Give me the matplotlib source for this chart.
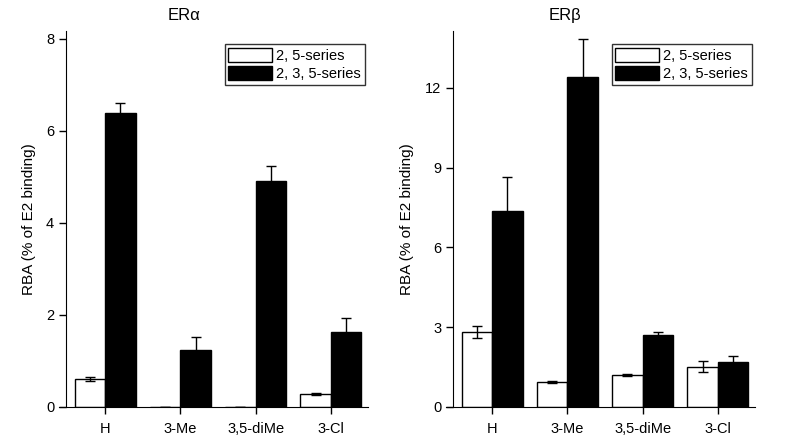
import numpy as np
import matplotlib; matplotlib.use("Agg"); import matplotlib.pyplot as plt

plt.rcParams["font.family"] = ["Liberation Sans", "DejaVu Sans"]

groups = ["H", "3-Me", "3,5-diMe", "3-Cl"]
series = ["2, 5-series", "2, 3, 5-series"]

# ER alpha
alpha_25 = [0.61, 0.01, 0.01, 0.29]
alpha_25_err = [0.04, 0.0, 0.0, 0.02]
alpha_235 = [6.39, 1.24, 4.91, 1.62]
alpha_235_err = [0.22, 0.27, 0.33, 0.31]

# ER beta
beta_25 = [2.82, 0.94, 1.20, 1.52]
beta_25_err = [0.22, 0.05, 0.03, 0.20]
beta_235 = [7.37, 12.40, 2.71, 1.70]
beta_235_err = [1.28, 1.42, 0.12, 0.22]

W = 0.405
x = np.arange(1, len(groups) + 1)

fig = plt.figure(figsize=(7.92, 4.45), dpi=100)
ax1 = fig.add_axes([0.0833, 0.0854, 0.381, 0.845])
ax2 = fig.add_axes([0.572, 0.0854, 0.381, 0.845])

def panel(ax, v1, e1, v2, e2, ymax, ticks, title, tx):
    ax.bar(x - W/2, v1, W, color="white", edgecolor="black", lw=1.0, label=series[0], zorder=2)
    ax.bar(x + W/2, v2, W, color="black", edgecolor="black", lw=1.0, label=series[1], zorder=2)
    ax.errorbar(x - W/2, v1, yerr=e1, fmt="none", ecolor="black", elinewidth=1.0, capsize=3.5, capthick=1.0, zorder=3)
    ax.errorbar(x + W/2, v2, yerr=e2, fmt="none", ecolor="black", elinewidth=1.0, capsize=3.5, capthick=1.0, zorder=3)
    ax.set_xlim(0.48, 4.49); ax.set_ylim(0, ymax)
    ax.set_xticks(x); ax.set_xticklabels(groups)
    ax.set_yticks(ticks)
    for s in ["top", "right"]: ax.spines[s].set_visible(False)
    ax.spines["bottom"].set_bounds(0.39, 4.49)
    ax.tick_params(direction="out", length=5, width=1.0, labelsize=10.5)
    ax.tick_params(axis="x", pad=6)
    ax.set_ylabel("RBA (% of E2 binding)", fontsize=11)
    ax.set_title(title, x=tx, fontsize=12, pad=8)
    leg = ax.legend(loc="upper right", bbox_to_anchor=(0.99, 0.965), fontsize=10.5, frameon=True, fancybox=False,
                    handlelength=3.0, handleheight=1.1, handletextpad=0.3, borderpad=0.25, labelspacing=0.25,
                    borderaxespad=0.0)
    leg.get_frame().set_edgecolor("black"); leg.get_frame().set_linewidth(1.0)

panel(ax1, alpha_25, alpha_25_err, alpha_235, alpha_235_err, 8.17, [0, 2, 4, 6, 8], "ER\u03b1", 0.39)
panel(ax2, beta_25, beta_25_err, beta_235, beta_235_err, 14.14, [0, 3, 6, 9, 12], "ER\u03b2", 0.37)
ax1.yaxis.set_label_coords(-0.10, 0.5)
ax2.yaxis.set_label_coords(-0.13, 0.5)

plt.savefig("out.png", dpi=100)
